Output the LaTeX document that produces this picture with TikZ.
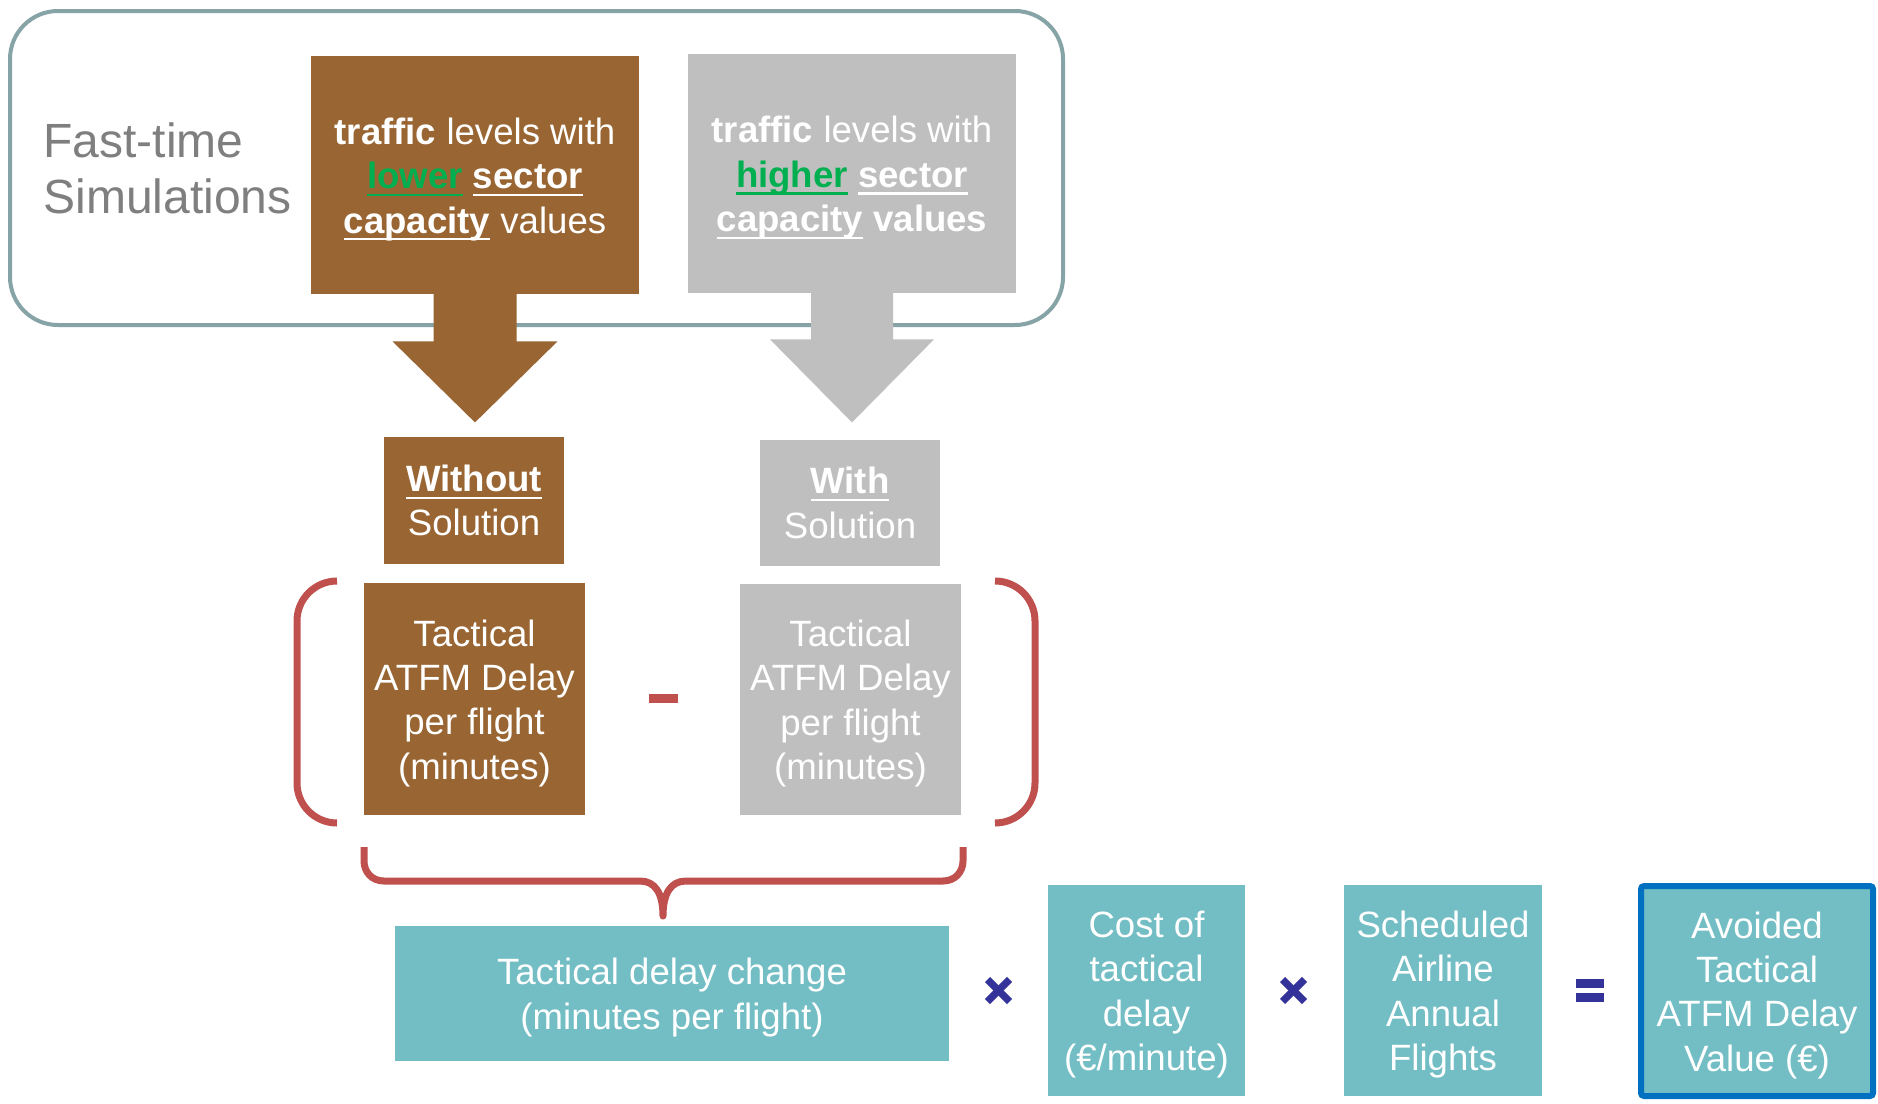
\documentclass[tikz,border=0pt]{standalone}
\usepackage{fontspec}
\setmainfont{Liberation Sans}
\usetikzlibrary{calc}
\definecolor{brownc}{RGB}{153,102,51}
\definecolor{grayc}{RGB}{191,191,191}
\definecolor{tealc}{RGB}{114,190,196}
\definecolor{framec}{RGB}{134,164,166}
\definecolor{redc}{RGB}{192,80,77}
\definecolor{greenc}{RGB}{0,176,80}
\definecolor{navyc}{RGB}{51,51,153}
\definecolor{bluec}{RGB}{0,112,192}
\definecolor{titlec}{RGB}{127,127,127}
\newsavebox{\myulbox}
\newcommand{\myul}[1]{\sbox{\myulbox}{#1}\rlap{\rule[-3.7pt]{\wd\myulbox}{1.1pt}}\usebox{\myulbox}}
\newcommand{\tstrut}{\rule{0pt}{17.4pt}}
\begin{document}
\begin{tikzpicture}[x=0.5pt,y=-0.5pt,
  boxtext/.style={inner sep=0pt, align=center, text=white,
    font=\fontsize{18.3}{22.2}\selectfont},
  brownbox/.style={boxtext, fill=brownc},
  graybox/.style={boxtext, fill=grayc},
  tealbox/.style={boxtext, fill=tealc},
  titletext/.style={inner sep=0pt, text=titlec, font=\fontsize{24}{28}\selectfont, anchor=base west},
  redline/.style={draw=redc, line width=3.5pt},
  xmark/.style={draw=navyc, line width=3.6pt},
  barmark/.style={fill=navyc, inner sep=0pt, minimum width=14pt, minimum height=4.5pt}]
\useasboundingbox (0,0) rectangle (1878,1103);
\fill[white] (0,0) rectangle (1878,1103);

% frame
\draw[framec, line width=2pt, rounded corners=24pt] (10,11) rectangle (1063,325);
\node[titletext] (ft1) at (43,157) {Fast-time};
\node[titletext] (ft2) at (43,213) {Simulations};

% top boxes
\node[brownbox, minimum width=164pt, minimum height=119pt] (bt) at (475,175)
  {\tstrut\textbf{traffic} levels with\\
   {\color{greenc}\myul{\textbf{lower}}} \myul{\textbf{sector}}\\
   \myul{\textbf{capacity}} values};
\node[graybox, minimum width=164pt, minimum height=119.5pt] (gt) at (852,173.5)
  {\tstrut\textbf{traffic} levels with\\
   {\color{greenc}\myul{\textbf{higher}}} \myul{\textbf{sector}}\\
   \myul{\textbf{capacity}} \textbf{values}};

% block arrows
\fill[brownc] ($(bt.south)+(-41.5,-1)$) -- ($(bt.south)+(-41.5,47)$) -- ($(bt.south)+(-82.5,47)$)
  -- ($(bt.south)+(0,128)$) -- ($(bt.south)+(82.5,47)$) -- ($(bt.south)+(41.5,47)$)
  -- ($(bt.south)+(41.5,-1)$) -- cycle;
\fill[grayc] ($(gt.south)+(-41,-1)$) -- ($(gt.south)+(-41,46)$) -- ($(gt.south)+(-82,46)$)
  -- ($(gt.south)+(0,129)$) -- ($(gt.south)+(82,46)$) -- ($(gt.south)+(41,46)$)
  -- ($(gt.south)+(41,-1)$) -- cycle;

% without / with
\node[brownbox, minimum width=90pt, minimum height=63.5pt] (wo) at (474,500.5)
  {\myul{\textbf{Without}}\\Solution};
\node[graybox, minimum width=90pt, minimum height=63pt] (wi) at (850,503)
  {\myul{\textbf{With}}\\Solution};

% tactical delay boxes
\node[brownbox, minimum width=110.5pt, minimum height=116pt] (tb) at (474.5,699)
  {\tstrut Tactical\\ATFM Delay\\per flight\\(minutes)};
\node[graybox, minimum width=110.5pt, minimum height=115.5pt] (tg) at (850.5,699.5)
  {\tstrut Tactical\\ATFM Delay\\per flight\\(minutes)};
\node[fill=redc, inner sep=0pt, minimum width=14.5pt, minimum height=4.5pt] (minus) at (663.5,698.5) {};

% brackets
\draw[redline, rounded corners=20pt] (337,581) -- (297,581) -- (297,823) -- (337,823);
\draw[redline, rounded corners=20pt] (995,581) -- (1035,581) -- (1035,823) -- (995,823);

% bottom brace
\coordinate (bracetip) at (663,916);
\draw[redline, line join=round] (364,847) -- (364,861) .. controls (364,872) and (372,881) .. (384,881)
  -- (640,881) .. controls (655,881) and (663,893) .. (bracetip)
  .. controls (663,893) and (671,881) .. (686,881) -- (943,881)
  .. controls (955,881) and (963,872) .. (963,861) -- (963,847);

% bottom row
\node[tealbox, minimum width=277pt, minimum height=67.5pt] (chg) at (672,993.5)
  {\tstrut Tactical delay change\\(minutes per flight)};
\node[tealbox, minimum width=98.5pt, minimum height=105.5pt] (cost) at (1146.5,990.5)
  {\tstrut Cost of\\tactical\\delay\\(€/minute)};
\node[tealbox, minimum width=99pt, minimum height=105.5pt] (sch) at (1443,990.5)
  {\tstrut Scheduled\\Airline\\Annual\\Flights};
\node[tealbox, draw=bluec, line width=3pt, rounded corners=1.5pt, minimum width=116pt, minimum height=105pt] (av) at (1757,991)
  {\tstrut Avoided\\Tactical\\ATFM Delay\\Value (€)};

% operators
\coordinate (x1) at (998.5,990.5);
\coordinate (x2) at (1293.5,990.5);
\draw[xmark] ($(x1)+(-11,-11)$) -- ($(x1)+(11,11)$);
\draw[xmark] ($(x1)+(-11,11)$) -- ($(x1)+(11,-11)$);
\draw[xmark] ($(x2)+(-11,-11)$) -- ($(x2)+(11,11)$);
\draw[xmark] ($(x2)+(-11,11)$) -- ($(x2)+(11,-11)$);
\node[barmark] (eq1) at (1590,983.5) {};
\node[barmark] (eq2) at (1590,997.5) {};
\end{tikzpicture}
\end{document}
